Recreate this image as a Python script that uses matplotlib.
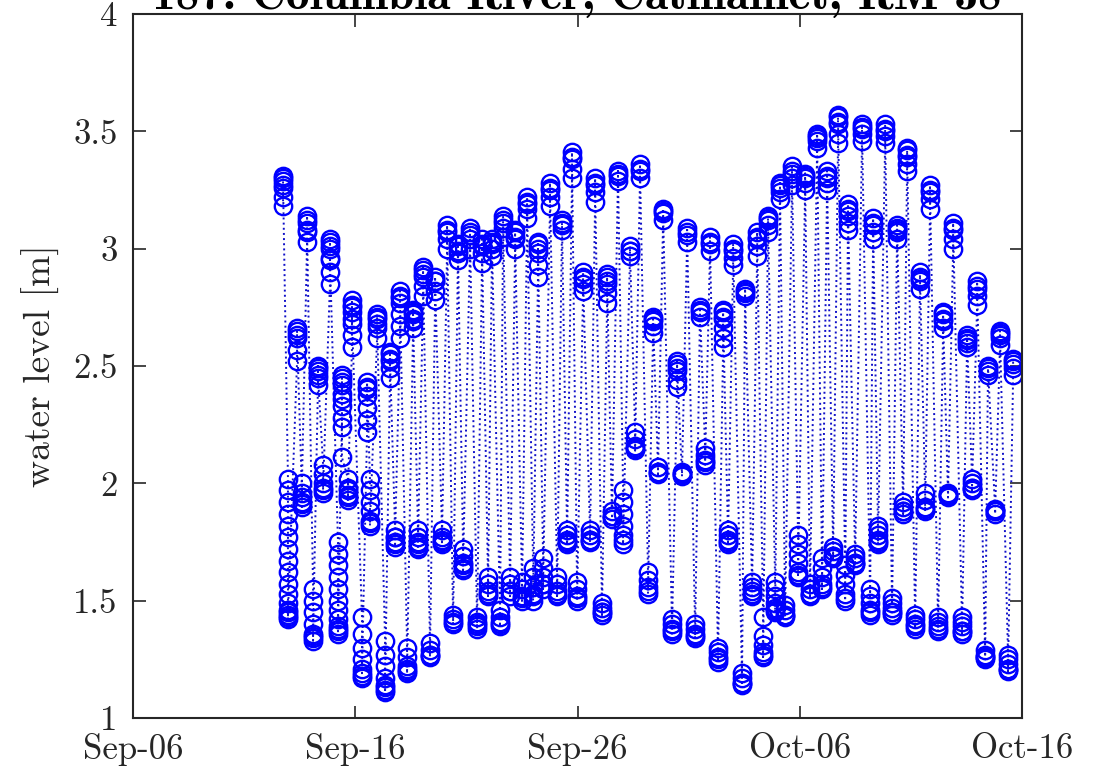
import numpy as np
import matplotlib
matplotlib.use('Agg')
import matplotlib.pyplot as plt
import matplotlib.dates as mdates

plt.rcParams['font.family'] = ['cmr10', 'DejaVu Serif']
plt.rcParams['axes.formatter.use_mathtext'] = True

# station record: time of each tidal turn (days after Sep-06) and the levels logged there
turn_day = [
    6.75, 6.97, 7.38, 7.60, 7.83, 8.10, 8.32, 8.55, 8.86, 9.22,
    9.40, 9.67, 9.85, 10.30, 10.53, 10.66, 10.98, 11.34, 11.56, 11.79,
    12.01, 12.33, 12.60, 12.82, 13.05, 13.36, 13.59, 13.90, 14.13, 14.40,
    14.62, 14.85, 15.16, 15.48, 15.70, 15.97, 16.15, 16.51, 16.65, 16.96,
    17.19, 17.50, 17.73, 18.00, 18.22, 18.45, 18.76, 19.08, 19.30, 19.53,
    19.75, 19.98, 20.25, 20.56, 20.79, 21.10, 21.33, 21.55, 21.82, 22.05,
    22.36, 22.59, 22.81, 23.17, 23.40, 23.62, 23.85, 24.25, 24.48, 24.70,
    24.93, 25.29, 25.51, 25.74, 25.96, 26.32, 26.55, 26.77, 27.00, 27.40,
    27.54, 27.85, 28.08, 28.35, 28.57, 28.89, 29.11, 29.34, 29.65, 29.92,
    30.24, 30.46, 30.78, 31.00, 31.23, 31.50, 31.72, 32.04, 32.17, 32.49,
    32.80, 33.16, 33.30, 33.52, 33.84, 34.15, 34.38, 34.65, 34.83, 35.19,
    35.41, 35.64, 35.86, 36.22, 36.45, 36.67, 36.90, 37.30, 37.53, 37.75,
    37.98, 38.34, 38.47, 38.79, 39.01, 39.37, 39.60,
]

turn_levels = [
    [3.18, 3.22, 3.26, 3.29, 3.31, 3.30, 3.27],
    [2.02, 1.97, 1.92, 1.87, 1.82, 1.77, 1.72, 1.67, 1.62, 1.57, 1.53, 1.49, 1.46, 1.44, 1.42, 1.43, 1.45],
    [2.52, 2.57, 2.62, 2.65, 2.66, 2.63],
    [1.96, 1.92, 1.90, 1.91, 1.94, 2.00],
    [3.03, 3.07, 3.11, 3.14, 3.12, 3.08],
    [1.55, 1.50, 1.45, 1.40, 1.36, 1.34, 1.33, 1.35],
    [2.42, 2.45, 2.48, 2.50, 2.49, 2.46],
    [2.08, 2.04, 2.00, 1.97, 1.96, 1.98],
    [2.85, 2.90, 2.95, 3.00, 3.03, 3.04, 3.01, 2.96],
    [1.75, 1.70, 1.65, 1.60, 1.55, 1.50, 1.46, 1.42, 1.39, 1.37, 1.36, 1.38],
    [2.28, 2.33, 2.38, 2.42, 2.45, 2.46, 2.43, 2.36, 2.24, 2.11],
    [2.02, 1.98, 1.95, 1.93, 1.94, 1.97],
    [2.58, 2.63, 2.68, 2.73, 2.76, 2.78, 2.75, 2.70],
    [1.43, 1.36, 1.30, 1.25, 1.21, 1.18, 1.17, 1.19],
    [2.22, 2.27, 2.32, 2.37, 2.41, 2.43, 2.40],
    [2.02, 1.97, 1.92, 1.88, 1.84, 1.82, 1.83],
    [2.62, 2.66, 2.70, 2.72, 2.71, 2.68],
    [1.33, 1.27, 1.22, 1.17, 1.14, 1.12, 1.11, 1.13],
    [2.45, 2.49, 2.52, 2.55, 2.56, 2.53],
    [1.80, 1.77, 1.75, 1.73, 1.74, 1.77],
    [2.62, 2.67, 2.72, 2.77, 2.80, 2.82, 2.79],
    [1.30, 1.26, 1.22, 1.20, 1.19, 1.21],
    [2.66, 2.69, 2.72, 2.74, 2.73, 2.70],
    [1.80, 1.77, 1.75, 1.73, 1.72, 1.74],
    [2.80, 2.84, 2.88, 2.91, 2.92, 2.89],
    [1.32, 1.29, 1.27, 1.26, 1.27],
    [2.78, 2.82, 2.86, 2.88, 2.86],
    [1.80, 1.77, 1.75, 1.74, 1.76],
    [3.00, 3.04, 3.08, 3.10, 3.07],
    [1.44, 1.42, 1.40, 1.41],
    [2.95, 2.98, 3.01, 3.02, 2.99],
    [1.72, 1.69, 1.66, 1.64, 1.63, 1.65],
    [3.00, 3.04, 3.07, 3.09, 3.06],
    [1.43, 1.41, 1.39, 1.38, 1.40],
    [2.94, 2.98, 3.01, 3.04, 3.02],
    [1.60, 1.57, 1.54, 1.52, 1.53],
    [2.97, 3.00, 3.03, 3.04, 3.02],
    [1.46, 1.43, 1.41, 1.39, 1.40],
    [3.05, 3.09, 3.12, 3.14, 3.11],
    [1.60, 1.57, 1.54, 1.52, 1.54],
    [3.00, 3.04, 3.07, 3.08, 3.05],
    [1.58, 1.55, 1.52, 1.50, 1.51],
    [3.13, 3.17, 3.20, 3.22, 3.19],
    [1.64, 1.60, 1.56, 1.53, 1.50, 1.52],
    [2.88, 2.93, 2.98, 3.02, 3.03, 3.00],
    [1.68, 1.64, 1.60, 1.57, 1.55, 1.57],
    [3.18, 3.22, 3.26, 3.28, 3.25],
    [1.60, 1.57, 1.54, 1.52, 1.53],
    [3.08, 3.10, 3.12, 3.11],
    [1.80, 1.78, 1.76, 1.74, 1.75],
    [3.30, 3.34, 3.38, 3.41, 3.39],
    [1.58, 1.55, 1.52, 1.50, 1.51],
    [2.82, 2.85, 2.88, 2.90, 2.87],
    [1.80, 1.78, 1.76, 1.75, 1.76],
    [3.20, 3.24, 3.28, 3.30, 3.27],
    [1.49, 1.47, 1.45, 1.44, 1.45],
    [2.77, 2.81, 2.85, 2.88, 2.89, 2.86],
    [1.88, 1.86, 1.85, 1.86],
    [3.29, 3.31, 3.33, 3.32],
    [1.97, 1.92, 1.87, 1.82, 1.78, 1.74, 1.76],
    [2.97, 2.99, 3.01, 2.99],
    [2.22, 2.19, 2.16, 2.14, 2.15],
    [3.30, 3.33, 3.36, 3.34],
    [1.62, 1.59, 1.56, 1.53, 1.54],
    [2.64, 2.67, 2.70, 2.71, 2.69],
    [2.07, 2.05, 2.04, 2.05],
    [3.12, 3.15, 3.17, 3.16],
    [1.42, 1.40, 1.38, 1.36, 1.37],
    [2.41, 2.44, 2.48, 2.51, 2.52, 2.49],
    [2.05, 2.04, 2.03, 2.04],
    [3.03, 3.06, 3.09, 3.07],
    [1.40, 1.38, 1.36, 1.34, 1.35],
    [2.71, 2.73, 2.75, 2.74],
    [2.15, 2.12, 2.10, 2.08, 2.09],
    [2.99, 3.02, 3.05, 3.03],
    [1.30, 1.28, 1.26, 1.24, 1.25],
    [2.58, 2.62, 2.66, 2.70, 2.73, 2.74, 2.71],
    [1.80, 1.78, 1.76, 1.74, 1.75],
    [2.93, 2.96, 2.99, 3.02, 3.00],
    [1.19, 1.17, 1.15, 1.14, 1.15],
    [2.80, 2.82, 2.83, 2.81],
    [1.58, 1.56, 1.54, 1.52, 1.53],
    [2.97, 3.01, 3.04, 3.07, 3.05],
    [1.43, 1.35, 1.31, 1.28, 1.26, 1.27],
    [3.07, 3.10, 3.13, 3.14, 3.12],
    [1.58, 1.55, 1.52, 1.49, 1.46, 1.45, 1.47],
    [3.21, 3.24, 3.27, 3.28, 3.26],
    [1.48, 1.46, 1.44, 1.43, 1.44],
    [3.27, 3.30, 3.33, 3.35, 3.32],
    [1.78, 1.74, 1.70, 1.66, 1.62, 1.60, 1.61],
    [3.25, 3.28, 3.31, 3.32, 3.30],
    [1.57, 1.55, 1.53, 1.52, 1.53],
    [3.43, 3.46, 3.48, 3.49, 3.47],
    [1.68, 1.64, 1.60, 1.57, 1.55, 1.56],
    [3.25, 3.28, 3.31, 3.33, 3.30],
    [1.73, 1.71, 1.69, 1.68, 1.69],
    [3.45, 3.49, 3.53, 3.56, 3.57, 3.54],
    [1.65, 1.61, 1.57, 1.53, 1.50, 1.51],
    [3.08, 3.11, 3.14, 3.17, 3.19, 3.16],
    [1.70, 1.68, 1.66, 1.65, 1.66],
    [3.46, 3.49, 3.52, 3.53, 3.51],
    [1.55, 1.52, 1.49, 1.46, 1.44, 1.45],
    [3.04, 3.07, 3.10, 3.13, 3.11],
    [1.82, 1.80, 1.78, 1.76, 1.74, 1.75],
    [3.45, 3.48, 3.51, 3.53, 3.50],
    [1.51, 1.49, 1.47, 1.45, 1.44, 1.45],
    [3.04, 3.07, 3.09, 3.10, 3.08],
    [1.92, 1.90, 1.88, 1.87, 1.88],
    [3.33, 3.36, 3.39, 3.42, 3.43, 3.40],
    [1.44, 1.42, 1.40, 1.38, 1.39],
    [2.83, 2.86, 2.88, 2.90, 2.87],
    [1.96, 1.93, 1.90, 1.88, 1.89],
    [3.17, 3.21, 3.24, 3.27, 3.25],
    [1.43, 1.41, 1.39, 1.37, 1.38],
    [2.66, 2.69, 2.72, 2.73, 2.70],
    [1.96, 1.95, 1.94, 1.95],
    [3.00, 3.04, 3.08, 3.11, 3.09],
    [1.43, 1.41, 1.39, 1.37, 1.36, 1.37],
    [2.58, 2.60, 2.62, 2.63, 2.61],
    [2.02, 2.00, 1.98, 1.97, 1.98],
    [2.76, 2.80, 2.83, 2.86, 2.84],
    [1.29, 1.27, 1.26, 1.25, 1.26],
    [2.46, 2.48, 2.50, 2.49],
    [1.89, 1.88, 1.87, 1.88],
    [2.59, 2.62, 2.64, 2.65, 2.63],
    [1.27, 1.25, 1.23, 1.21, 1.20, 1.21],
    [2.46, 2.49, 2.52, 2.53, 2.51],
]

start = np.datetime64('2017-09-06T00:00')
title_text = '187: Columbia River, Cathlamet, RM 38'

# flatten into one time series
t = []
h = []
for d, lev in zip(turn_day, turn_levels):
    for v in lev:
        t.append(start + np.timedelta64(int(round(d * 1440)), 'm'))
        h.append(v)
t = np.array(t)
h = np.array(h)

fig = plt.figure(figsize=(10.96, 7.84), dpi=100)
ax = fig.add_axes([0.1214, 0.0842, 0.8111, 0.898])

ax.plot(t, h, ':', color='#1010c8', linewidth=1.4,
        marker='o', markersize=12.5, markerfacecolor='none',
        markeredgecolor='#0000ff', markeredgewidth=1.7)

ax.set_xlim(start, start + np.timedelta64(40, 'D'))
ax.set_ylim(1, 4)
ax.set_yticks([1, 1.5, 2, 2.5, 3, 3.5, 4])
ax.set_yticklabels(['1', '1.5', '2', '2.5', '3', '3.5', '4'])
ax.xaxis.set_major_locator(mdates.DayLocator(bymonthday=[6, 16, 26]))
ax.xaxis.set_major_formatter(mdates.DateFormatter('%b-%d'))

ax.tick_params(direction='in', length=9, width=1.2, labelsize=25,
               top=True, right=True, colors='#262626', pad=11)
for s in ax.spines.values():
    s.set_linewidth(1.5)
    s.set_color('#262626')

ax.set_ylabel('water level [m]', fontsize=27, color='#262626', labelpad=10)

fig.text(0.5265, 1 - 9 / 784, title_text, ha='center', va='baseline',
         fontsize=34, family=['cmb10', 'DejaVu Serif'], color='#000000')

fig.savefig('out.png', dpi=100)
